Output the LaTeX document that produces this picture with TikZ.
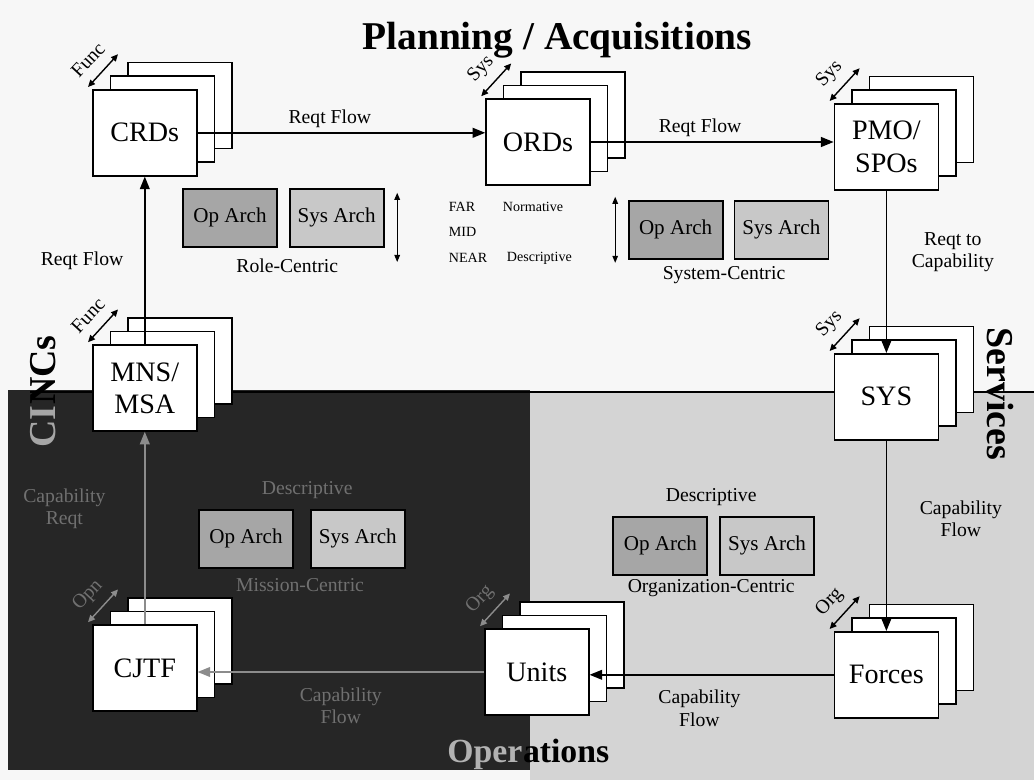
\documentclass[tikz,border=0pt]{standalone}
\usepackage{fontspec}
\setmainfont{Liberation Serif}
\usepackage{xcolor}
\usetikzlibrary{arrows.meta, positioning, shadows}
\definecolor{kpaper}{HTML}{F7F7F7}
\definecolor{kdark}{HTML}{262626}
\definecolor{klight}{HTML}{D4D4D4}
\definecolor{kop}{HTML}{A6A6A6}
\definecolor{ksys}{HTML}{C8C8C8}
\definecolor{kdim}{HTML}{707070}

\tikzset{
  stackbox/.style={draw=black, fill=white, line width=1.1pt, align=center,
    minimum width=2.6cm, minimum height=2.15cm, font=\fontsize{20}{23}\selectfont,
    copy shadow={shadow xshift=0.88cm, shadow yshift=0.68cm, draw=black, fill=white},
    copy shadow={shadow xshift=0.44cm, shadow yshift=0.34cm, draw=black, fill=white}},
  archbox/.style={draw=black, line width=1.3pt, minimum width=2.35cm,
    minimum height=1.45cm, font=\fontsize{15}{17}\selectfont},
  flowarrow/.style={line width=1.1pt, -{Triangle[length=9pt,width=7pt]}},
  viewarrow/.style={line width=1pt,
    {Triangle[length=5pt,width=4.5pt]}-{Triangle[length=5pt,width=4.5pt]}},
  rangearrow/.style={line width=0.7pt,
    {Triangle[length=5pt,width=4pt]}-{Triangle[length=5pt,width=4pt]}},
  flowlabel/.style={font=\fontsize{14}{16}\selectfont, align=center},
  viewlabel/.style={font=\fontsize{14}{15}\selectfont, rotate=47, inner sep=1pt},
  scalelabel/.style={font=\fontsize{10}{12}\selectfont, anchor=west},
  zonelabel/.style={font=\fontsize{27}{30}\selectfont\bfseries, inner sep=0pt,
    anchor=base west},
}

\begin{document}
\begin{tikzpicture}[x=1cm, y=1cm]
\useasboundingbox (0,0) rectangle (25.85,19.5);
\fill[kpaper] (0,0) rectangle (25.85,19.5);
% lower zones
\fill[kdark] (0.2,0.25) rectangle (13.25,9.75);
\fill[klight] (13.25,0) rectangle (25.85,9.68);
\draw[line width=1.2pt] (0.75,9.7) -- (25.85,9.7);

% zone titles
\node[font=\fontsize{28}{31}\selectfont\bfseries] (plantitle) at (13.93,18.5) {Planning / Acquisitions};
\node[font=\fontsize{24}{27}\selectfont\bfseries, inner sep=0pt, anchor=base west, text=black!30]
  (opsa) at (11.18,0.45) {Oper};
\node[font=\fontsize{24}{27}\selectfont\bfseries, inner sep=0pt, anchor=base west]
  (opsb) at (opsa.base east) {ations};
\node[zonelabel, rotate=90, text=black!35] (cincsa) at (1.38,8.3) {CI};
\node[zonelabel, rotate=90] (cincsb) at (cincsa.base east) {NCs};
\node[zonelabel, rotate=-90] (svcs) at (24.68,11.32) {Services};

% architecture views
\node[archbox, fill=kop] (roleop) at (5.75,14.06) {Op Arch};
\node[archbox, fill=ksys, right=0.27cm of roleop] (rolesys) {Sys Arch};
\node[flowlabel] (rolelbl) at (7.18,12.85) {Role-Centric};
\coordinate (rolefar) at (9.93,14.68);
\coordinate (rolenear) at (9.93,12.95);
\draw[rangearrow] (rolefar) -- (rolenear);

\node[scalelabel] (far) at (11.1,14.33) {FAR};
\node[scalelabel] (mid) at (11.1,13.7) {MID};
\node[scalelabel] (near) at (11.1,13.05) {NEAR};
\node[scalelabel] (normative) at (12.45,14.33) {Normative};
\node[scalelabel] (descriptive) at (12.55,13.05) {Descriptive};

\node[archbox, fill=kop] (sysop) at (16.89,13.76) {Op Arch};
\node[archbox, fill=ksys, right=0.25cm of sysop] (syssys) {Sys Arch};
\node[flowlabel] (syslbl) at (18.1,12.63) {System-Centric};
\coordinate (sysfar) at (15.38,14.58);
\coordinate (sysnear) at (15.38,12.93);
\draw[rangearrow] (sysfar) -- (sysnear);

\node[archbox, fill=kop] (misop) at (6.15,6.03) {Op Arch};
\node[archbox, fill=ksys, right=0.4cm of misop] (missys) {Sys Arch};
\node[flowlabel, text=kdim] (misdesc) at (7.68,7.25) {Descriptive};
\node[flowlabel, text=kdim] (mislbl) at (7.5,4.88) {Mission-Centric};

\node[archbox, fill=kop] (orgop) at (16.51,5.86) {Op Arch};
\node[archbox, fill=ksys, right=0.27cm of orgop] (orgsys) {Sys Arch};
\node[flowlabel] (orgdesc) at (17.78,7.08) {Descriptive};
\node[flowlabel] (orglbl) at (17.78,4.8) {Organization-Centric};

% stacked documents
\node[stackbox] (crd) at (3.62,16.18) {CRDs};
\node[stackbox] (ord) at (13.45,15.95) {ORDs};
\node[stackbox] (pmo) at (22.16,15.83) {PMO/\\SPOs};
\node[stackbox] (mns) at (3.62,9.80) {MNS/\\MSA};
\node[stackbox] (sys) at (22.16,9.58) {SYS};
\node[stackbox] (cjtf) at (3.62,2.80) {CJTF};
\node[stackbox] (units) at (13.42,2.70) {Units};
\node[stackbox] (forces) at (22.16,2.63) {Forces};

% view arrows
\draw[viewarrow] ([shift={(-0.1,0.05)}]crd.north west) -- ++(0.75,0.82);
\node[viewlabel] (crdview) at ([shift={(-0.1,0.72)}]crd.north west) {Func};
\draw[viewarrow] ([shift={(-0.1,0.05)}]ord.north west) -- ++(0.75,0.82);
\node[viewlabel] (ordview) at ([shift={(-0.1,0.72)}]ord.north west) {Sys};
\draw[viewarrow] ([shift={(-0.1,0.05)}]pmo.north west) -- ++(0.75,0.82);
\node[viewlabel] (pmoview) at ([shift={(-0.1,0.72)}]pmo.north west) {Sys};
\draw[viewarrow] ([shift={(-0.1,0.05)}]mns.north west) -- ++(0.75,0.82);
\node[viewlabel] (mnsview) at ([shift={(-0.1,0.72)}]mns.north west) {Func};
\draw[viewarrow] ([shift={(-0.1,0.05)}]sys.north west) -- ++(0.75,0.82);
\node[viewlabel] (sysview) at ([shift={(-0.1,0.72)}]sys.north west) {Sys};
\draw[viewarrow, black!45] ([shift={(-0.1,0.05)}]cjtf.north west) -- ++(0.75,0.82);
\node[viewlabel, text=kdim] (cjtfview) at ([shift={(-0.1,0.72)}]cjtf.north west) {Opn};
\draw[viewarrow, black!45] ([shift={(-0.1,0.05)}]units.north west) -- ++(0.75,0.82);
\node[viewlabel, text=kdim] (unitsview) at ([shift={(-0.1,0.72)}]units.north west) {Org};
\draw[viewarrow] ([shift={(-0.1,0.05)}]forces.north west) -- ++(0.75,0.82);
\node[viewlabel] (forcesview) at ([shift={(-0.1,0.72)}]forces.north west) {Org};

% flows
\draw[flowarrow] (crd.east) -- node[flowlabel, above, pos=0.46] (crdflow) {Reqt Flow} (crd.east -| ord.west);
\draw[flowarrow] (ord.east) -- node[flowlabel, above, pos=0.45] (ordflow) {Reqt Flow} (ord.east -| pmo.west);
\draw[flowarrow] (pmo.south) -- node[flowlabel, right=0.5cm, pos=0.38] (pmoflow) {Reqt to\\Capability} (sys.north);
\draw[flowarrow] (sys.south) -- node[flowlabel, right=0.7cm, pos=0.41] (sysflow) {Capability\\Flow} (forces.north);
\draw[flowarrow] (forces.west) -- node[flowlabel, below=0.25cm, pos=0.55] (forcesflow) {Capability\\Flow} (forces.west -| units.east);
\draw[flowarrow, black!45] (units.west) -- node[flowlabel, below=0.25cm, text=kdim] (unitsflow) {Capability\\Flow} (units.west -| cjtf.east);
\draw[flowarrow, black!45] (cjtf.north) -- node[flowlabel, left=0.85cm, pos=0.6, text=kdim] (cjtfflow) {Capability\\Reqt} (mns.south);
\draw[flowarrow] (mns.north) -- node[flowlabel, left=0.4cm] (mnsflow) {Reqt Flow} (crd.south);
\end{tikzpicture}
\end{document}
